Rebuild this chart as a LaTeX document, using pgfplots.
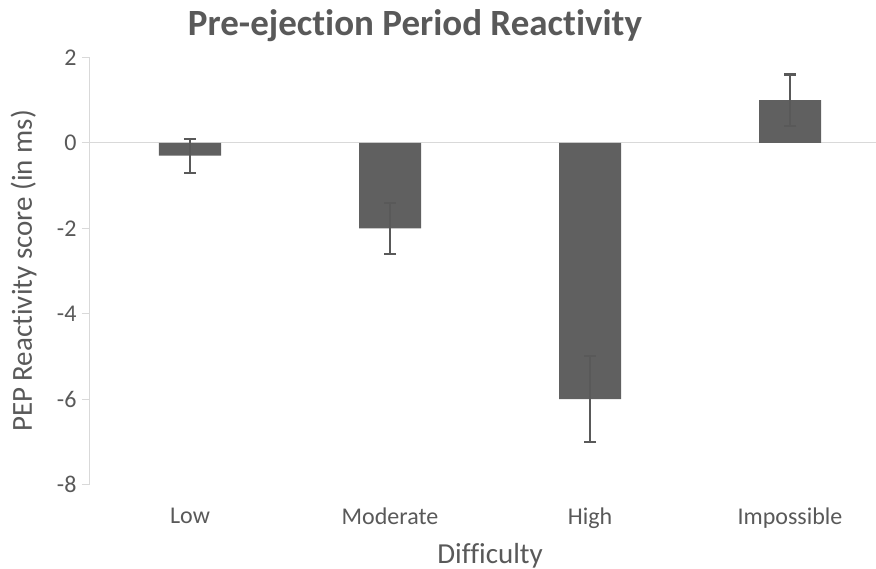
\documentclass[border=0pt]{standalone}
\usepackage{fontspec}
\setmainfont{Carlito}[Ligatures=NoCommon]
\usepackage{pgfplots}
\pgfplotsset{compat=1.18}
\definecolor{txt}{HTML}{595959}
\definecolor{barc}{HTML}{606060}
\definecolor{axc}{HTML}{D9D9D9}
\begin{document}
\begin{tikzpicture}
\path[use as bounding box] (-90pt,-84.5pt) rectangle (786pt,484.5pt);
\begin{axis}[
  scale only axis,
  width=786pt, height=427pt,
  xmin=-0.5, xmax=3.43,
  ymin=-8, ymax=2,
  ytick={-8,-6,-4,-2,0,2},
  xtick={0,1,2,3},
  xticklabels={Low,Moderate,High,Impossible},
  axis lines*=left,
  axis line style={axc, line width=1pt, -},
  x axis line style={draw=none},
  xtick style={draw=none},
  ytick style={axc, line width=1pt},
  tick align=outside,
  major tick length=8pt,
  /pgf/number format/assume math mode=true,
  tick label style={font=\fontsize{24}{28}\selectfont, text=txt},
  yticklabel style={xshift=-2pt},
  xticklabel style={yshift=-12pt},
  extra y ticks={0},
  extra y tick labels={},
  extra y tick style={grid=major, major grid style={axc, line width=1pt}, major tick length=0pt},
  title={Pre-ejection Period Reactivity},
  title style={font=\bfseries\fontsize{37}{42}\selectfont, text=txt, at={(rel axis cs:0.4135,1.037)}, anchor=base},
  xlabel={Difficulty},
  xlabel style={font=\fontsize{29}{33}\selectfont, text=txt, at={(rel axis cs:0.509,-0.166)}, anchor=center},
  ylabel={PEP Reactivity score (in ms)},
  ylabel style={font=\fontsize{29}{33}\selectfont, text=txt, at={(rel axis cs:-0.0845,0.5)}, anchor=center, rotate=0},
  clip=false,
]
\addplot[ybar, bar width=62pt, fill=barc, draw=none,
  error bars/.cd, y dir=both, y explicit,
  error bar style={txt, line width=2.2pt},
  error mark options={rotate=90, mark size=6pt, line width=2.2pt, txt}]
  coordinates {
    (0,-0.3) +- (0,0.4)
    (1,-2.0) +- (0,0.6)
    (2,-6.0) +- (0,1.0)
    (3,1.0) +- (0,0.6)
  };
\end{axis}
\end{tikzpicture}
\end{document}
